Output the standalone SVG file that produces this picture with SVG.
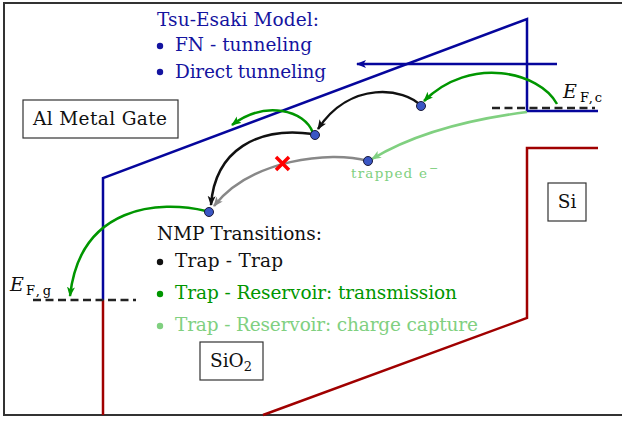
<svg xmlns="http://www.w3.org/2000/svg" width="622" height="423" viewBox="0 0 622 423">
<style>
text{font-family:"DejaVu Serif","Liberation Serif",serif;}
.t{font-size:18.5px;fill:#111;}
.blue{fill:#1414a0;}
.green{fill:#009600;}
.lgreen{fill:#80d080;}
.band{fill:none;stroke-width:2.5;}
.b{stroke:#06069c;}
.r{stroke:#a00000;}
.box{fill:#fff;stroke:#333;stroke-width:1.2;}
.trap{fill:#3a56c4;stroke:#1a1a3a;stroke-width:1;}
.arr{fill:none;stroke-width:2.5;}
.dash{stroke:#222;stroke-width:2.5;stroke-dasharray:8,4.5;}
.sub{font-size:13px;}
.ef{font-size:19px;font-style:italic;fill:#111;}
</style>
<defs>
<marker id="mk" markerUnits="userSpaceOnUse" markerWidth="12" markerHeight="10" refX="9" refY="4" orient="auto"><path d="M0,0 L10,4 L0,8 L2.5,4 z" fill="#111"/></marker>
<marker id="mg" markerUnits="userSpaceOnUse" markerWidth="12" markerHeight="10" refX="9" refY="4" orient="auto"><path d="M0,0 L10,4 L0,8 L2.5,4 z" fill="#009600"/></marker>
<marker id="ml" markerUnits="userSpaceOnUse" markerWidth="12" markerHeight="10" refX="9" refY="4" orient="auto"><path d="M0,0 L10,4 L0,8 L2.5,4 z" fill="#80d080"/></marker>
<marker id="mgr" markerUnits="userSpaceOnUse" markerWidth="12" markerHeight="10" refX="9" refY="4" orient="auto"><path d="M0,0 L10,4 L0,8 L2.5,4 z" fill="#888"/></marker>
<marker id="mb" markerUnits="userSpaceOnUse" markerWidth="12" markerHeight="10" refX="9" refY="4" orient="auto"><path d="M0,0 L10,4 L0,8 L2.5,4 z" fill="#06069c"/></marker>
</defs>
<rect x="4" y="3" width="622" height="412" fill="#fff" stroke="#333" stroke-width="2"/>

<g id="bands">
<polyline class="band b" points="103,300 103,178 527,19 527,111 598,111"/>
<polyline class="band r" points="103,300 103,415"/>
<polyline class="band r" points="263,415 527,318 527,148 598,148"/>
</g>

<g id="fermi-levels">
<line class="dash" x1="492" y1="108" x2="595" y2="108"/>
<line class="dash" x1="33" y1="300" x2="136" y2="300"/>
<text x="563" y="98" class="ef">E</text>
<text x="580" y="102" class="sub" textLength="22" lengthAdjust="spacing">F,c</text>
<text x="10" y="291" class="ef">E</text>
<text x="26" y="295" class="sub" textLength="25" lengthAdjust="spacing">F,g</text>
</g>

<g id="connectors">
<line x1="557" y1="64" x2="357" y2="64" class="arr" stroke="#06069c" marker-end="url(#mb)"/>
<path d="M557,104 C540,72 470,55 424,101" class="arr" stroke="#009600" marker-end="url(#mg)"/>
<path d="M421,106 C405,88 350,80 318,129" class="arr" stroke="#111" marker-end="url(#mk)"/>
<path d="M313,133 C305,110 265,100 232,125" class="arr" stroke="#009600" marker-end="url(#mg)"/>
<path d="M313,134 C258,126 215,150 211,205" class="arr" stroke="#111" marker-end="url(#mk)"/>
<path d="M368,161 C330,150 250,160 214,206" class="arr" stroke="#888" marker-end="url(#mgr)"/>
<path d="M527,112 C480,118 420,130 372,159" class="arr" stroke="#80d080" marker-end="url(#ml)"/>
<path d="M206,211 C160,200 80,205 70,296" class="arr" stroke="#009600" marker-end="url(#mg)"/>
</g>

<g id="blocked">
<path d="M276,157 L289,170 M289,157 L276,170" stroke="#f00" stroke-width="3.5" fill="none"/>
</g>

<g id="trap1"><circle class="trap" cx="421" cy="106" r="4.5"/></g>
<g id="trap2"><circle class="trap" cx="315" cy="135" r="4.5"/></g>
<g id="trap3"><circle class="trap" cx="368" cy="161" r="4.5"/>
<text x="351" y="178" class="lgreen" style="font-size:13.5px" textLength="76" lengthAdjust="spacing">trapped e</text>
<text x="429" y="172" class="lgreen" style="font-size:11px">−</text></g>
<g id="trap4"><circle class="trap" cx="209" cy="212" r="4.5"/></g>

<g id="legend-tsu">
<text x="157" y="26" class="t blue" textLength="162" lengthAdjust="spacing">Tsu-Esaki Model:</text>
<circle cx="160" cy="46" r="3.2" fill="#1414a0"/>
<text x="175" y="51" class="t blue" textLength="137" lengthAdjust="spacing">FN - tunneling</text>
<circle cx="160" cy="72" r="3.2" fill="#1414a0"/>
<text x="175" y="78" class="t blue" textLength="151" lengthAdjust="spacing">Direct tunneling</text>
</g>

<g id="legend-nmp">
<text x="157" y="240" class="t" textLength="165" lengthAdjust="spacing">NMP Transitions:</text>
<circle cx="160" cy="262" r="3.2" fill="#111"/>
<text x="175" y="267" class="t" textLength="108" lengthAdjust="spacing">Trap - Trap</text>
<circle cx="160" cy="294" r="3.2" fill="#009600"/>
<text x="175" y="299" class="t green" textLength="282" lengthAdjust="spacing">Trap - Reservoir: transmission</text>
<circle cx="160" cy="326" r="3.2" fill="#80d080"/>
<text x="175" y="331" class="t lgreen" textLength="303" lengthAdjust="spacing">Trap - Reservoir: charge capture</text>
</g>

<g id="gate">
<rect class="box" x="23" y="100" width="155" height="38"/>
<text x="33" y="125" class="t" textLength="134" lengthAdjust="spacing">Al Metal Gate</text>
</g>
<g id="si">
<rect class="box" x="548" y="183" width="38" height="38"/>
<text x="567" y="208" class="t" text-anchor="middle">Si</text>
</g>
<g id="sio2">
<rect class="box" x="200" y="342" width="63" height="38"/>
<text x="210" y="367" class="t">SiO<tspan class="sub" dy="4">2</tspan></text>
</g>
</svg>
